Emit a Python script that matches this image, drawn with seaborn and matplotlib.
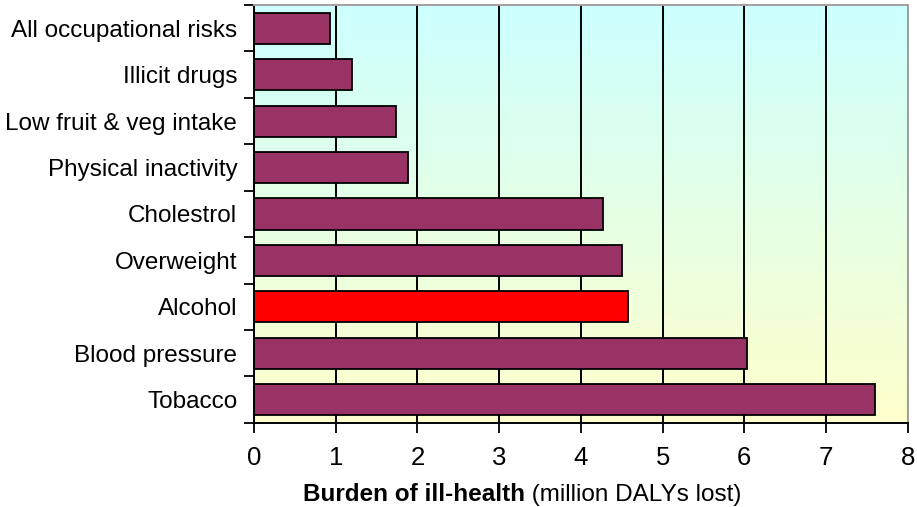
import numpy as np
import pandas as pd
import matplotlib
matplotlib.use("Agg")
import matplotlib.pyplot as plt
import seaborn as sns
from matplotlib.colors import LinearSegmentedColormap

categories = ["All occupational risks", "Illicit drugs", "Low fruit & veg intake",
              "Physical inactivity", "Cholestrol", "Overweight", "Alcohol",
              "Blood pressure", "Tobacco"]
values = [0.93, 1.20, 1.74, 1.88, 4.27, 4.50, 4.57, 6.03, 7.60]
x_ticks = [0, 1, 2, 3, 4, 5, 6, 7, 8]
highlight = "Alcohol"
xlabel_bold = "Burden of ill-health"
xlabel_rest = " (million DALYs lost)"

sns.set_theme(style="white")
plt.rcParams["font.family"] = ["Liberation Sans", "DejaVu Sans"]
plt.rcParams["text.color"] = "black"
plt.rcParams["xtick.color"] = "black"
plt.rcParams["ytick.color"] = "black"

df = pd.DataFrame({"risk": categories, "dalys": values})
palette = {c: ("#ff0000" if c == highlight else "#993366") for c in categories}

fig = plt.figure(figsize=(9.17, 5.07), dpi=100)
ax = fig.add_axes([0.277, 0.166, 0.713, 0.824])

# gradient background cyan -> light yellow
cmap = LinearSegmentedColormap.from_list("bg", ["#ccffff", "#ffffcc"])
grad = np.linspace(0, 1, 256).reshape(-1, 1)
ax.imshow(grad, cmap=cmap, aspect="auto", extent=[0, 1, 0, 1],
          transform=ax.transAxes, zorder=0)

sns.barplot(data=df, y="risk", x="dalys", hue="risk", palette=palette,
            order=categories, orient="h", width=0.67, edgecolor="black",
            linewidth=1.3, saturation=1, legend=False, ax=ax, zorder=3)

ax.set_xlim(0, 8)
ax.set_ylim(len(categories) - 0.5, -0.5)
ax.set_xticks(x_ticks)
ax.set_xticklabels([str(t) for t in x_ticks], fontsize=18.5)
ax.grid(axis="x", color="black", linewidth=1.4)
for gl in ax.get_xgridlines():
    gl.set_zorder(1)

ax.set_yticks(range(len(categories)))
ax.set_yticklabels(categories, fontsize=17.5)
ax.set_yticks(np.arange(-0.5, len(categories), 1), minor=True)
ax.tick_params(axis="y", which="major", length=0, pad=12)
ax.tick_params(axis="y", which="minor", length=7, width=1.3, color="black", left=True)
ax.tick_params(axis="x", which="major", length=7, width=1.3, color="black",
               bottom=True, direction="out", pad=10)
ax.set_xlabel("")
ax.set_ylabel("")

for s in ["left", "bottom"]:
    ax.spines[s].set_color("black")
    ax.spines[s].set_linewidth(1.4)
for s in ["top", "right"]:
    ax.spines[s].set_color("#a0a0a0")
    ax.spines[s].set_linewidth(1.4)
for sp in ax.spines.values():
    sp.set_zorder(5)

t1 = fig.text(303 / 917, 0.012, xlabel_bold, ha="left", va="baseline",
              fontsize=17.5, fontweight="bold")
fig.canvas.draw()
bb = t1.get_window_extent(renderer=fig.canvas.get_renderer())
x_end = fig.transFigure.inverted().transform((bb.x1, bb.y0))[0]
fig.text(x_end, 0.012, xlabel_rest, ha="left", va="baseline", fontsize=17.5)

fig.savefig("out.png", dpi=100, facecolor="white")
